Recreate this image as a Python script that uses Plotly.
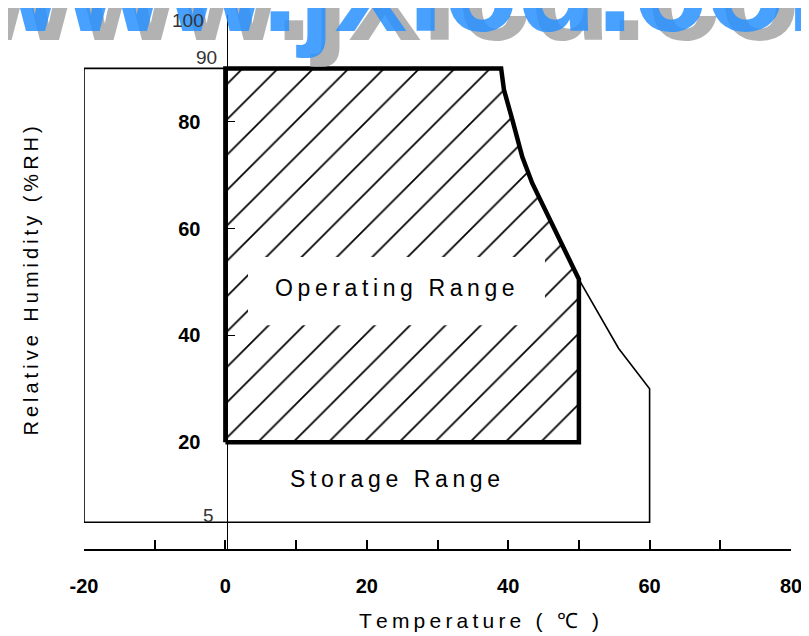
import plotly.graph_objects as go

# ---------------- data ----------------
storage_temp = [-20, -20, 39.0, 39.4, 40.6, 42.0, 43.4, 45.7, 47.6, 49.5, 50.0, 55.6, 60, 60, -20]
storage_rh = [5, 90, 90, 86.0, 80.3, 73.4, 68.5, 62.2, 56.6, 51.7, 50.5, 37.6, 30, 5, 5]

operating_temp = [0, 0, 39.0, 39.4, 40.6, 42.0, 43.4, 45.7, 47.6, 49.5, 50.0, 50, 0]
operating_rh = [20, 90, 90, 86.0, 80.3, 73.4, 68.5, 62.2, 56.6, 51.7, 50.5, 20, 20]

label_box_temp = [3.2, 45.2]
label_box_rh = [41.9, 54.7]

x_tick_vals = [-20, -10, 0, 10, 20, 30, 40, 50, 60, 70, 80]
x_tick_text = ["-20", "", "0", "", "20", "", "40", "", "60", "", "80"]
y_tick_vals = [20, 40, 60, 80, 100]
y_tick_text = ["20", "40", "60", "80", ""]
extra_y_labels = ["100", "90", "5"]
extra_y_values = [100, 90, 5]

operating_label = "Operating Range"
storage_label = "Storage Range"
x_title = "Temperature ( \u2103 )"
y_title = "Relative Humidity (%RH)"
watermark = "www.jxlcd.com"

# ---------------- geometry helpers ----------------
# the page body has an 8px margin, so the figure starts at (8, 8)
OFF = 8
W, H = 809 - OFF, 636 - OFF
ML, MR, MT, MB = 84 - OFF, 11, 15 - OFF, 87
PW, PH = W - ML - MR, H - MT - MB


def px_x(px):  # screen px -> paper x
    return (px - OFF - ML) / PW


def px_y(py):  # screen px -> paper y
    return (H - MB - (py - OFF)) / PH


def spaced(s, sep="\u2009"):
    return sep.join(list(s))


fig = go.Figure()

# storage outline
fig.add_trace(go.Scatter(x=storage_temp, y=storage_rh, mode="lines",
                         line=dict(color="black", width=1.6), hoverinfo="skip",
                         showlegend=False, cliponaxis=False))

# operating range hatched fill
fig.add_trace(go.Scatter(x=operating_temp, y=operating_rh, mode="lines", fill="toself",
                         fillcolor="white",
                         fillpattern=dict(shape="/", size=25, solidity=0.07,
                                          fgcolor="#000000", fgopacity=1, bgcolor="white",
                                          fillmode="replace"),
                         line=dict(width=0), hoverinfo="skip", showlegend=False))

# white label box
fig.add_trace(go.Scatter(x=[label_box_temp[0], label_box_temp[1], label_box_temp[1], label_box_temp[0], label_box_temp[0]],
                         y=[label_box_rh[0], label_box_rh[0], label_box_rh[1], label_box_rh[1], label_box_rh[0]],
                         mode="lines", fill="toself", fillcolor="white", line=dict(width=0),
                         hoverinfo="skip", showlegend=False))

# operating outline
fig.add_trace(go.Scatter(x=operating_temp, y=operating_rh, mode="lines",
                         line=dict(color="black", width=4.5), hoverinfo="skip",
                         showlegend=False, cliponaxis=False))

annotations = []
# watermark (gray shadow then blue)
for dx, dy, col in [(14, 8, "rgba(165,165,165,0.85)"), (0, 0, "rgba(40,145,255,0.85)")]:
    annotations.append(dict(text=watermark, xref="paper", yref="paper",
                            x=px_x(-43 + dx), y=px_y(-14 + dy), xanchor="left", yanchor="middle",
                            showarrow=False,
                            font=dict(family="Liberation Sans", size=131, color=col, weight=700)))

extra_pos = [(-2.7, 99.0), (-0.95, 92.0), (-1.4, 6.3)]
for t, v, (xp, yp) in zip(extra_y_labels, extra_y_values, extra_pos):
    annotations.append(dict(text=t, x=xp, y=yp, xref="x", yref="y",
                            xanchor="right", yanchor="middle", showarrow=False,
                            font=dict(family="Liberation Sans", size=19, color="#333")))

annotations.append(dict(text=spaced(operating_label), x=24, y=48.9, xref="x", yref="y",
                        showarrow=False, xanchor="center", yanchor="middle",
                        font=dict(family="Liberation Sans", size=23, color="black")))
annotations.append(dict(text=spaced(storage_label), x=24, y=13.1, xref="x", yref="y",
                        showarrow=False, xanchor="center", yanchor="middle",
                        font=dict(family="Liberation Sans", size=23, color="black")))
annotations.append(dict(text=spaced(x_title), xref="paper", yref="paper",
                        x=px_x(483), y=px_y(621), showarrow=False,
                        xanchor="center", yanchor="middle",
                        font=dict(family="Liberation Sans", size=21, color="black")))
annotations.append(dict(text=spaced(y_title), xref="paper", yref="paper",
                        x=px_x(30), y=px_y(281), showarrow=False, textangle=-90,
                        xanchor="center", yanchor="middle",
                        font=dict(family="Liberation Sans", size=20, color="black", weight=500)))

fig.update_layout(
    width=W, height=H,
    margin=dict(l=ML, r=MR, t=MT, b=MB, pad=0),
    paper_bgcolor="white", plot_bgcolor="white",
    showlegend=False,
    annotations=annotations,
    xaxis=dict(range=[-20, 80], showgrid=False, zeroline=False,
               showline=True, linecolor="black", linewidth=2,
               ticks="inside", ticklen=9, tickwidth=1.6, tickcolor="black",
               tickvals=x_tick_vals, ticktext=x_tick_text,
               ticklabelstandoff=18, ticklabeloverflow="allow",
               tickfont=dict(family="Liberation Sans", size=20, color="black", weight=700)),
    yaxis=dict(range=[0, 100], showgrid=False, zeroline=False,
               anchor="free", position=px_x(228),
               showline=True, linecolor="black", linewidth=1.2,
               ticks="inside", ticklen=7, tickwidth=1.2, tickcolor="black",
               tickvals=y_tick_vals, ticktext=y_tick_text,
               ticklabelstandoff=22, ticklabeloverflow="allow",
               tickfont=dict(family="Liberation Sans", size=20, color="black", weight=700)),
)

fig.write_html("out.html")
